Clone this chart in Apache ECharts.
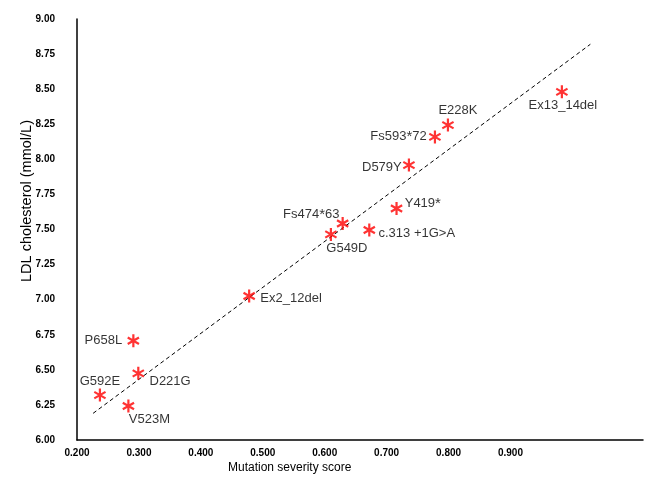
<!DOCTYPE html>
<html>
<head>
<meta charset="utf-8">
<script src="https://cdn.jsdelivr.net/npm/echarts@6/dist/echarts.min.js"></script>
<style>
html,body{margin:0;padding:0;background:#fff;}
#chart{width:645px;height:481px;}
</style>
</head>
<body>
<div id="chart"></div>
<script>
// ---- Data ----
var mutations = ['P658L','D221G','G592E','V523M','Ex2_12del','G549D','Fs474*63','c.313 +1G>A','Y419*','D579Y','Fs593*72','E228K','Ex13_14del'];
var severityScore = [0.291, 0.299, 0.237, 0.283, 0.478, 0.610, 0.629, 0.672, 0.716, 0.736, 0.778, 0.799, 0.983];
var ldlCholesterol = [6.707, 6.475, 6.320, 6.242, 7.026, 7.465, 7.543, 7.496, 7.650, 7.959, 8.160, 8.244, 8.481];
var trendX = [0.226, 1.029];
var trendY = [6.19, 8.82];
var xTicks = ['0.200','0.300','0.400','0.500','0.600','0.700','0.800','0.900'];
var yTicks = ['6.00','6.25','6.50','6.75','7.00','7.25','7.50','7.75','8.00','8.25','8.50','8.75','9.00'];

// ---- Label placement (style) ----
var labelPlace = [
  {position:'left', distance:5, offset:[0,0]},
  {position:'right', distance:5, offset:[0,8]},
  {position:'top', distance:1, offset:[0,0]},
  {position:'bottom', distance:0, offset:[21,0]},
  {position:'right', distance:5, offset:[0,2]},
  {position:'bottom', distance:0, offset:[16,1]},
  {position:'left', distance:0, offset:[3,-9]},
  {position:'right', distance:3, offset:[0,3]},
  {position:'right', distance:2, offset:[0,-5]},
  {position:'left', distance:1, offset:[0,2]},
  {position:'left', distance:2, offset:[0,0]},
  {position:'top', distance:2, offset:[10,0]},
  {position:'bottom', distance:0, offset:[1,1]}
];

// asterisk symbol path (6 arms)
function asteriskPath(h) {
  var parts = [];
  [90, 30, -30].forEach(function (deg) {
    var t = deg * Math.PI / 180;
    var dx = Math.cos(t), dy = Math.sin(t);
    var nx = -dy * h, ny = dx * h;
    var pts = [[dx + nx, dy + ny], [dx - nx, dy - ny], [-dx - nx, -dy - ny], [-dx + nx, -dy + ny]];
    var area = 0;
    for (var i = 0; i < 4; i++) { var a = pts[i], b = pts[(i + 1) % 4]; area += a[0] * b[1] - b[0] * a[1]; }
    if (area < 0) pts.reverse();
    parts.push('M' + pts.map(function (p) { return ((p[0] + 1) * 10).toFixed(2) + ' ' + ((p[1] + 1) * 10).toFixed(2); }).join(' L') + ' Z');
  });
  return 'path://' + parts.join(' ');
}
var starSymbol = asteriskPath(0.17);

function fmtLabel(name) {
  return name.replace('*', '{s|*}');
}

var points = mutations.map(function (m, i) {
  var lp = labelPlace[i];
  return {
    name: m,
    value: [severityScore[i], ldlCholesterol[i]],
    label: {
      show: true,
      position: lp.position,
      distance: lp.distance,
      offset: lp.offset,
      formatter: fmtLabel(m),
      color: '#000',
      fontSize: 13,
      fontFamily: 'Liberation Sans, Arial, sans-serif',
      rich: { s: { fontSize: 15, color: '#000', fontFamily: 'Liberation Sans, Arial, sans-serif' } }
    }
  };
});

var trendData = trendX.map(function (x, i) { return [x, trendY[i]]; });

var chart = echarts.init(document.getElementById('chart'), null, {renderer: 'canvas'});
chart.setOption({
  animation: false,
  backgroundColor: '#fff',
  textStyle: { fontFamily: 'Liberation Sans, Arial, sans-serif' },
  grid: { left: 77, right: 2, top: 19, bottom: 41 },
  xAxis: {
    type: 'value',
    min: 0.2, max: 1.114, interval: 0.1,
    axisLine: { show: true, lineStyle: { color: '#000', width: 1.5 } },
    axisTick: { show: false },
    splitLine: { show: false },
    axisLabel: {
      color: '#000', fontSize: 10, fontWeight: 'bold', margin: 8,
      showMaxLabel: false,
      formatter: function (v) {
        var idx = Math.round((v - 0.2) / 0.1);
        return xTicks[idx] !== undefined ? xTicks[idx] : '';
      }
    }
  },
  yAxis: {
    type: 'value',
    min: 6, max: 9, interval: 0.25,
    axisLine: { show: true, lineStyle: { color: '#000', width: 1.5 } },
    axisTick: { show: false },
    splitLine: { show: false },
    axisLabel: {
      color: '#000', fontSize: 10, fontWeight: 'bold', margin: 22,
      formatter: function (v) {
        var idx = Math.round((v - 6) / 0.25);
        return yTicks[idx] !== undefined ? yTicks[idx] : '';
      }
    }
  },
  graphic: [
    {
      type: 'text', left: 228, top: 462,
      style: { text: 'Mutation severity score', fontSize: 12, fill: '#000', fontFamily: 'Liberation Sans, Arial, sans-serif' }
    },
    {
      type: 'text', x: 27, y: 201, rotation: Math.PI / 2,
      style: { text: 'LDL cholesterol (mmol/L)', fontSize: 14.5, fill: '#000', align: 'center', verticalAlign: 'middle', fontFamily: 'Liberation Sans, Arial, sans-serif' }
    }
  ],
  series: [
    {
      type: 'line',
      data: trendData,
      symbol: 'none',
      silent: true,
      lineStyle: { color: '#000', width: 1, type: [4, 3] },
      z: 1
    },
    {
      type: 'scatter',
      data: points,
      symbol: starSymbol,
      symbolSize: 13,
      symbolKeepAspect: true,
      itemStyle: { color: '#ff0000' },
      z: 3
    }
  ]
});
</script>
</body>
</html>
